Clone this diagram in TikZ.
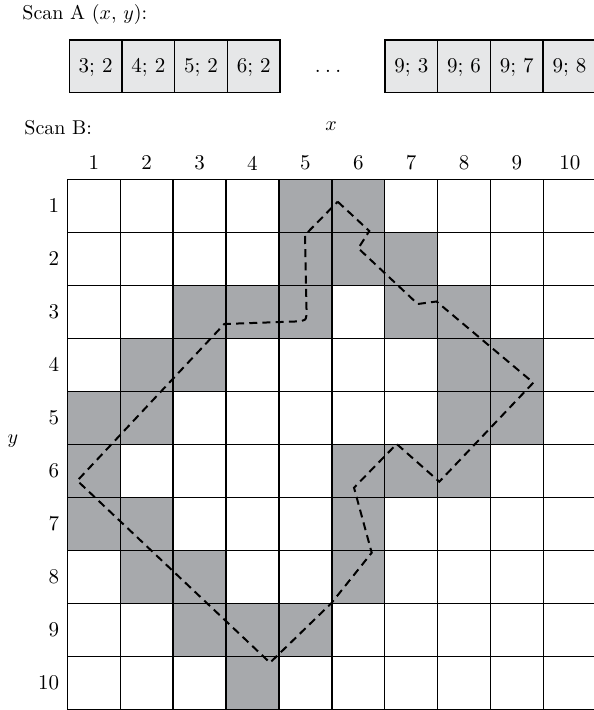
\documentclass[tikz,border=0pt]{standalone}
\definecolor{cellgray}{HTML}{A7A9AC}
\definecolor{boxgray}{HTML}{E6E7E8}
\begin{document}
\begin{tikzpicture}[x=0.5pt,y=-0.5pt,
  lbl/.style={font=\fontsize{10}{12}\selectfont, inner sep=0pt},
  numlbl/.style={font=\fontsize{10.5}{12}\selectfont, inner sep=0pt},
  scanbox/.style={draw, fill=boxgray, line width=0.7pt, minimum width=26.35pt, minimum height=26.35pt,
    inner sep=0pt, text height=7pt, text depth=1.2pt, font=\fontsize{10.5}{12}\selectfont},
  dotsnode/.style={inner sep=0pt, text height=7pt, text depth=1.2pt, font=\fontsize{10.5}{12}\selectfont},
  gridline/.style={line width=0.7pt},
  contour/.style={line width=1pt, dash pattern=on 4pt off 2.6pt}]
\useasboundingbox (0,0) rectangle (593,710);
\def\xo{67.3}\def\cw{52.9}\def\yo{179.3}\def\ch{53}
% Scan A
\node[lbl, anchor=base west] (titleA) at (22,19.5) {Scan A ($x$, $y$):};
\foreach \t [count=\i] in {3; 2,4; 2,5; 2,6; 2}
  \node[scanbox] (a\i) at ({69.3+26.35+52.7*(\i-1)},66.3) {\t};
\node[dotsnode] (dots) at (328,66.3) {.\hspace{2.2pt}.\hspace{2.2pt}.};
\foreach \t [count=\i] in {9; 3,9; 6,9; 7,9; 8}
  \node[scanbox] (b\i) at ({385+26.35+52.7*(\i-1)},66.3) {\t};
% Scan B
\node[lbl, anchor=base west] (titleB) at (24,135) {Scan B:};
\node[lbl] (xlab) at (331,126) {$x$};
\node[lbl] (ylab) at (13,441) {$y$};
% gray cells
\foreach \r/\cols in {1/{5,6},2/{5,6,7},3/{3,4,5,7,8},4/{2,3,8,9},5/{1,2,8,9},6/{1,6,7,8},7/{1,2,6},8/{2,3,6},9/{3,4,5},10/{4}}
  \foreach \c in \cols
    \fill[cellgray] ({\xo+\cw*(\c-1)},{\yo+\ch*(\r-1)}) rectangle ({\xo+\cw*\c},{\yo+\ch*\r});
% grid lines
\foreach \i in {0,...,10} {
  \draw[gridline] ({\xo+\cw*\i},\yo) -- ({\xo+\cw*\i},{\yo+\ch*10});
  \draw[gridline] (\xo,{\yo+\ch*\i}) -- ({\xo+\cw*10},{\yo+\ch*\i});
}
% labels
\foreach \i in {1,...,10} {
  \node[numlbl] (c\i) at ({\xo+\cw*(\i-0.5)},163) {\i};
  \node[numlbl, anchor=east] (r\i) at (59.5,{\yo+\ch*(\i-0.5)}) {\i};
}
% contour
\coordinate (p1) at (337.7,201.7);
\coordinate (p2) at (369.3,231);
\coordinate (p3) at (358.3,248.3);
\coordinate (p4) at (417.7,304);
\coordinate (p5) at (436.5,301.5);
\coordinate (p6) at (533.3,382.7);
\coordinate (p7) at (439.3,481.7);
\coordinate (p8) at (396.7,444);
\coordinate (p9) at (354,487.7);
\coordinate (p10) at (371.7,552.7);
\coordinate (p10b) at (331.5,603);
\coordinate (p11) at (270,662.7);
\coordinate (p12) at (77.3,480.7);
\coordinate (p13) at (224.3,324);
\coordinate (p14) at (295,321.5);
\coordinate (p15) at (306.5,309);
\coordinate (p16) at (305,235);
\draw[contour] (p1) -- (p2) -- (p3) -- (p4) -- (p5) -- (p6) -- (p7) -- (p8) -- (p9) -- (p10) -- (p10b) -- (p11) -- (p12) -- (p13) -- (p14) .. controls (306.5,321) .. (p15) -- (p16) -- cycle;
\end{tikzpicture}
\end{document}
